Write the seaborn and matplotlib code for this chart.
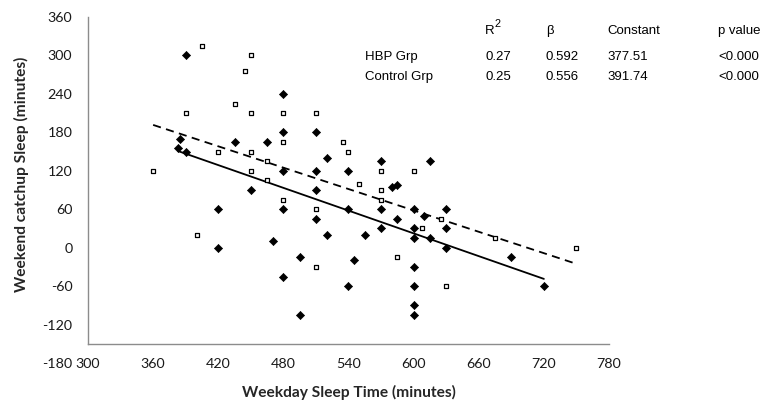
import numpy as np
import pandas as pd
import matplotlib
matplotlib.use("Agg")
import matplotlib.pyplot as plt
import seaborn as sns

# ---- data ----
hbp_x = [390, 480, 480, 510, 385, 383, 390, 435, 465, 480, 510, 520, 540, 570,
         450, 510, 580, 585, 615, 480, 540, 570, 510, 585, 570, 520, 555, 470,
         495, 545, 480, 540, 495, 420, 420, 600, 630, 610, 600, 630, 600, 615,
         630, 690, 600, 600, 600, 600, 720]
hbp_y = [300, 240, 180, 180, 170, 155, 150, 165, 165, 120, 120, 140, 120, 135,
         90, 90, 95, 98, 135, 60, 60, 60, 45, 45, 30, 20, 20, 10,
         -15, -20, -45, -60, -105, 60, 0, 60, 60, 50, 30, 30, 15, 15,
         0, -15, -30, -60, -90, -105, -60]

ctrl_x = [405, 450, 445, 435, 390, 450, 480, 510, 480, 535, 540, 420, 450, 360,
          465, 450, 465, 550, 570, 570, 480, 600, 570, 510, 510, 585, 400, 608,
          625, 675, 750, 630]
ctrl_y = [315, 300, 275, 225, 210, 210, 210, 210, 165, 165, 150, 150, 150, 120,
          135, 120, 105, 100, 120, 90, 75, 120, 75, 60, -30, -15, 20, 30,
          45, 15, 0, -60]

groups = ["HBP Grp", "Control Grp"]
r2 = ["0.27", "0.25"]
beta = ["0.592", "0.556"]
constant = ["377.51", "391.74"]
p_value = ["<0.000", "<0.000"]
headers = ["R", "β", "Constant", "p value"]
header_sup = "2"   # superscript of R²

x_ticks = [300, 360, 420, 480, 540, 600, 660, 720, 780]
y_ticks = [-180, -120, -60, 0, 60, 120, 180, 240, 300, 360]

# ---- style ----
sns.set_style("white")
plt.rcParams['font.family'] = ['Lato', 'DejaVu Sans']

W, H = 772, 401
fig = plt.figure(figsize=(W / 100, H / 100), dpi=100)
ax = fig.add_axes([88 / W, 1 - 363 / H, 521 / W, 346 / H])

df_h = pd.DataFrame({"x": hbp_x, "y": hbp_y})
df_c = pd.DataFrame({"x": ctrl_x, "y": ctrl_y})

# regression lines from the table coefficients
for xs, b, c, dash in [(hbp_x, beta[0], constant[0], None),
                       (ctrl_x, beta[1], constant[1], (4.5, 3))]:
    lx = np.array([min(xs), max(xs)], dtype=float)
    ly = float(c) - float(b) * lx
    sns.lineplot(x=lx, y=ly, ax=ax, color="black", linewidth=1.3,
                 sort=False, estimator=None)
    if dash is not None:
        ax.lines[-1].set_dashes(dash)

sns.scatterplot(data=df_h, x="x", y="y", ax=ax, marker="D", s=17,
                color="black", edgecolor="black", linewidth=0.5, zorder=3)
sns.scatterplot(data=df_c, x="x", y="y", ax=ax, marker="s", s=9,
                facecolor="white", edgecolor="black", linewidth=0.9, zorder=4)

ax.set_xlim(300, 780)
ax.set_ylim(-180, 360)
ax.set_xticks(x_ticks)
ax.set_yticks(y_ticks)
ax.set_xticklabels([str(v) for v in x_ticks])
ax.set_yticklabels([str(v) for v in y_ticks])

grey = "#8c8c8c"
for s in ["top", "right"]:
    ax.spines[s].set_visible(False)
ax.spines["bottom"].set_position(("data", -150))
ax.spines["left"].set_bounds(-150, 360)
for s in ["bottom", "left"]:
    ax.spines[s].set_color(grey)
    ax.spines[s].set_linewidth(1.0)

ax.tick_params(axis="y", direction="out", length=4.3, width=0.8, color=grey,
               pad=7, labelsize=10.3, labelcolor="#1a1a1a")
ax.tick_params(axis="x", direction="in", length=3, width=0.8, color=grey,
               pad=10, labelsize=10.3, labelcolor="#1a1a1a")
ax.yaxis.get_major_ticks()[0].tick1line.set_visible(False)

ax.set_xlabel("Weekday Sleep Time (minutes)", fontsize=11.2, fontweight="bold")
ax.set_ylabel("Weekend catchup Sleep (minutes)", fontsize=11.2, fontweight="bold")
ax.xaxis.set_label_coords(0.5, -(385 - 363) / 346)
ax.yaxis.set_label_coords(-(88 - 29) / 521, (363 - 174) / 346)

# ---- statistics table ----
tf = dict(family=["Liberation Sans", "DejaVu Sans"], fontsize=9.5,
          color="black", va="center", ha="left")
col_x = [485, 546, 607, 718]
for hx, h in zip(col_x, headers):
    fig.text(hx / W, 1 - 31 / H, h, **tf)
fig.text(495 / W, 1 - 24 / H, header_sup,
         **{**tf, "fontsize": 7.8})
row_y = [57, 77]
for i, g in enumerate(groups):
    fig.text(365 / W, 1 - row_y[i] / H, g, **tf)
    for hx, v in zip(col_x, [r2[i], beta[i], constant[i], p_value[i]]):
        fig.text(hx / W, 1 - row_y[i] / H, v, **tf)

fig.savefig("out.png", dpi=100)
